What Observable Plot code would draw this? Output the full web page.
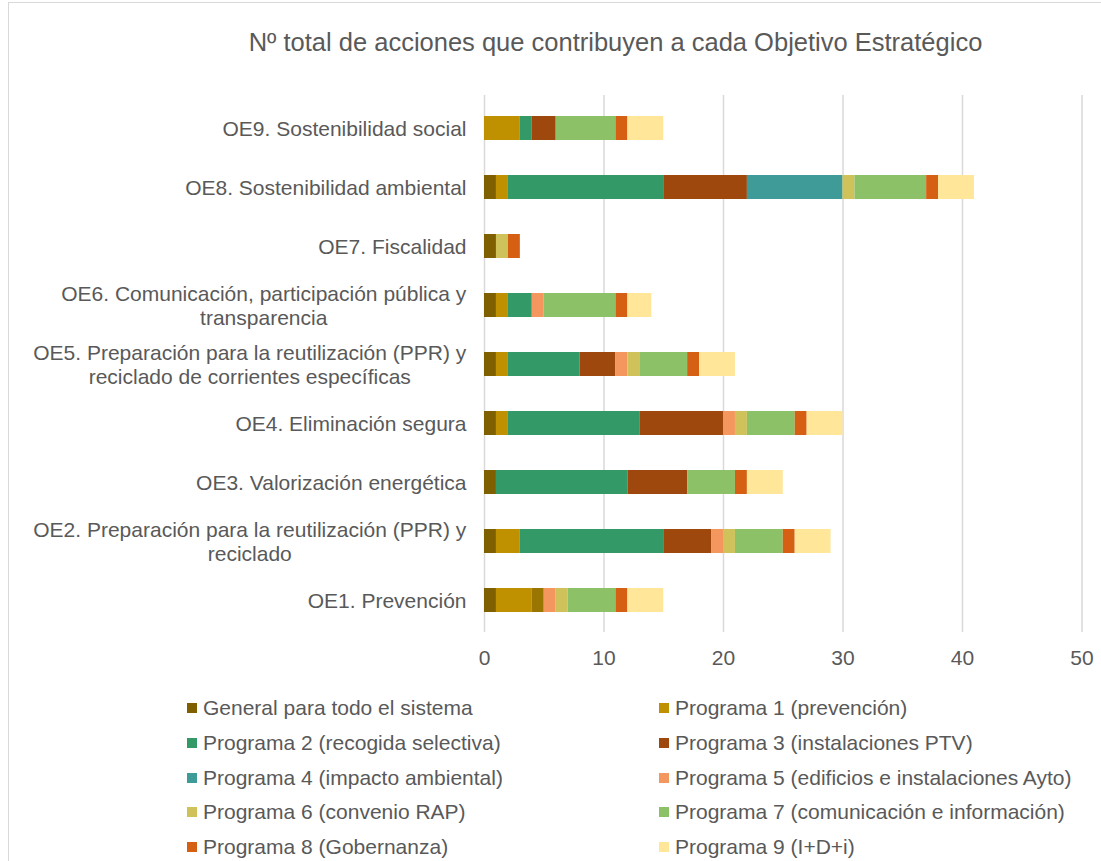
<!DOCTYPE html>
<html>
<head>
<meta charset="utf-8">
<script src="https://cdn.jsdelivr.net/npm/d3@7"></script>
<script src="https://cdn.jsdelivr.net/npm/@observablehq/plot@0.6"></script>
<style>
  html, body { margin: 0; padding: 0; background: #fff; overflow: hidden; }
  #wrap { position: relative; width: 1101px; height: 861px; font-family: "Liberation Sans", Arial, sans-serif; color: #595959; }
  #border { position: absolute; left: 8px; top: 2px; width: 1300px; height: 1000px; border-left: 1px solid #d9d9d9; border-top: 1px solid #d9d9d9; box-sizing: border-box; }
  #title { position: absolute; left: 0; top: 0; width: 1101px; height: 84px; line-height: 84px; text-align: center; font-size: 25.5px; padding-left: 130px; box-sizing: border-box; }
  #chart { position: absolute; left: 0; top: 84px; }
  #legend { position: absolute; left: 0; top: 691px; width: 1101px; font-size: 21px; }
  .item { position: absolute; display: flex; align-items: center; height: 34.7px; white-space: nowrap; }
  .sw { width: 10px; height: 10px; margin-right: 6px; flex: none; }
</style>
</head>
<body>
<div id="wrap">
  <div id="border"></div>
  <div id="title">Nº total de acciones que contribuyen a cada Objetivo Estratégico</div>
  <div id="chart"></div>
  <div id="legend"></div>
</div>
<script>
// Categories (bottom to top as in the reference)
const categories = [
  "OE1. Prevención",
  "OE2. Preparación para la reutilización (PPR) y reciclado",
  "OE3. Valorización energética",
  "OE4. Eliminación segura",
  "OE5. Preparación para la reutilización (PPR) y reciclado de corrientes específicas",
  "OE6. Comunicación, participación pública y transparencia",
  "OE7. Fiscalidad",
  "OE8. Sostenibilidad ambiental",
  "OE9. Sostenibilidad social"
];
const categoryLabels = [
  "OE1. Prevención",
  "OE2. Preparación para la reutilización (PPR) y\nreciclado",
  "OE3. Valorización energética",
  "OE4. Eliminación segura",
  "OE5. Preparación para la reutilización (PPR) y\nreciclado de corrientes específicas",
  "OE6. Comunicación, participación pública y\ntransparencia",
  "OE7. Fiscalidad",
  "OE8. Sostenibilidad ambiental",
  "OE9. Sostenibilidad social"
];

// Series (stack order) and values per category (OE1..OE9)
const seriesNames = [
  "General para todo el sistema",
  "Programa 1 (prevención)",
  "Sin leyenda",
  "Programa 2 (recogida selectiva)",
  "Programa 3 (instalaciones PTV)",
  "Programa 4 (impacto ambiental)",
  "Programa 5 (edificios e instalaciones Ayto)",
  "Programa 6 (convenio RAP)",
  "Programa 7 (comunicación e información)",
  "Programa 8 (Gobernanza)",
  "Programa 9 (I+D+i)"
];
const general  = [1, 1, 1, 1, 1, 1, 1, 1, 0];
const programa1 = [3, 2, 0, 1, 1, 1, 0, 1, 3];
const sinLeyenda = [1, 0, 0, 0, 0, 0, 0, 0, 0];
const programa2 = [0, 12, 11, 11, 6, 2, 0, 13, 1];
const programa3 = [0, 4, 5, 7, 3, 0, 0, 7, 2];
const programa4 = [0, 0, 0, 0, 0, 0, 0, 8, 0];
const programa5 = [1, 1, 0, 1, 1, 1, 0, 0, 0];
const programa6 = [1, 1, 0, 1, 1, 0, 1, 1, 0];
const programa7 = [4, 4, 4, 4, 4, 6, 0, 6, 5];
const programa8 = [1, 1, 1, 1, 1, 1, 1, 1, 1];
const programa9 = [3, 3, 3, 3, 3, 2, 0, 3, 3];
const seriesValues = [general, programa1, sinLeyenda, programa2, programa3, programa4,
  programa5, programa6, programa7, programa8, programa9];

const seriesColors = [
  "#7F6000", "#BF9000", "#9A7500", "#339966", "#9E480E", "#3E9B98",
  "#F4975E", "#D0C25A", "#8CC168", "#D55F12", "#FFE699"
];
// Legend entries (left column then right column, row by row)
const legendOrder = [
  "General para todo el sistema", "Programa 1 (prevención)",
  "Programa 2 (recogida selectiva)", "Programa 3 (instalaciones PTV)",
  "Programa 4 (impacto ambiental)", "Programa 5 (edificios e instalaciones Ayto)",
  "Programa 6 (convenio RAP)", "Programa 7 (comunicación e información)",
  "Programa 8 (Gobernanza)", "Programa 9 (I+D+i)"
];
const xTicks = [0, 10, 20, 30, 40, 50];

const table = [];
seriesNames.forEach((s, i) => {
  categories.forEach((c, j) => {
    if (seriesValues[i][j] > 0) table.push({serie: s, cat: c, value: seriesValues[i][j]});
  });
});
const labelOf = new Map(categories.map((c, i) => [c, categoryLabels[i]]));

const chart = Plot.plot({
  width: 1101,
  height: 600,
  marginLeft: 484,
  marginRight: 19.5,
  marginTop: 11,
  marginBottom: 52,
  style: {fontFamily: '"Liberation Sans", Arial, sans-serif', color: "#595959", background: "transparent"},
  x: {domain: [0, 50]},
  y: {domain: categories.slice().reverse(), paddingInner: 0.6, paddingOuter: 0.3},
  color: {domain: seriesNames, range: seriesColors},
  marks: [
    Plot.gridX(xTicks, {stroke: "#d9d9d9", strokeOpacity: 1, strokeWidth: 1.5}),
    Plot.barX(table, Plot.stackX({x: "value", y: "cat", fill: "serie", order: seriesNames})),
    Plot.axisX({ticks: xTicks, tickSize: 0, tickPadding: 18, fontSize: 21, label: null, fill: "#595959"}),
    Plot.axisY({tickSize: 0, tickPadding: 18, fontSize: 21, lineHeight: 1.15, label: null,
      tickFormat: d => labelOf.get(d), fill: "#595959"})
  ]
});
document.getElementById("chart").appendChild(chart);

// Center the lines of wrapped labels within their right-aligned block
chart.querySelectorAll('g[aria-label="y-axis tick label"] text').forEach(t => {
  const spans = t.querySelectorAll("tspan");
  if (spans.length > 1) {
    const w = t.getBBox().width;
    t.setAttribute("text-anchor", "middle");
    spans.forEach(sp => sp.setAttribute("x", -w / 2));
  }
});

// Legend
const legend = document.getElementById("legend");
const colorOf = new Map(seriesNames.map((s, i) => [s, seriesColors[i]]));
legendOrder.forEach((s, i) => {
  const col = i % 2, row = Math.floor(i / 2);
  const el = document.createElement("div");
  el.className = "item";
  el.style.left = (col === 0 ? 187 : 659) + "px";
  el.style.top = (row * 34.7) + "px";
  el.innerHTML = `<span class="sw" style="background:${colorOf.get(s)}"></span><span>${s}</span>`;
  legend.appendChild(el);
});
</script>
</body>
</html>
